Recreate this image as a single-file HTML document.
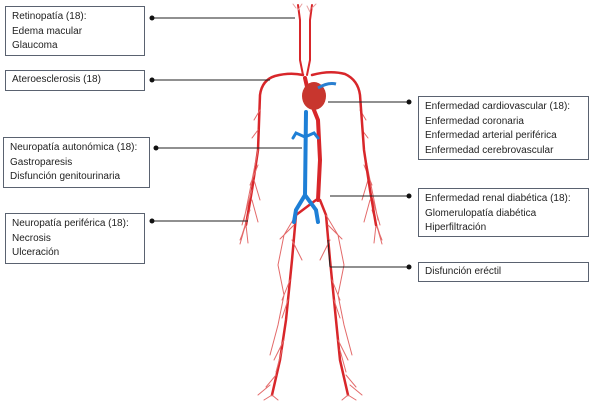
<!DOCTYPE html>
<html><head><meta charset="utf-8"><style>
body{margin:0;width:602px;height:404px;background:#fff;position:relative;overflow:hidden;font-family:"Liberation Sans",sans-serif;}
.b{position:absolute;border:1px solid #5a6270;box-sizing:border-box;font-size:10px;line-height:14.5px;color:#222;padding:3px 6px;background:#fff;}
svg{position:absolute;left:0;top:0}
</style></head><body>
<svg width="602" height="404">
<g fill="none" stroke="#d8262a" stroke-linecap="round">
<path d="M298 5 L300 20 L300 60 L303 75" stroke-width="2"/>
<path d="M312 5 L310 20 L310 60 L307 75" stroke-width="2"/>
<path d="M296 8 l-3 -4 M298 10 l4 -6 M312 8 l4 -4 M310 12 l-3 -6" stroke-width="1" stroke="#e8a0a0"/>
<path d="M305 78 L310 100 L318 120 L320 160 L318 200" stroke-width="4"/>
<path d="M303 75 Q290 72 275 76 Q262 80 260 95 L258 150 L252 190 L246 225" stroke-width="2.5"/>
<g stroke-width="1" stroke="#e36a6a">
<path d="M258 150 l-6 30 l-8 40 M252 190 l-10 35 M246 225 l-6 15 M246 225 l2 18 M250 210 l-8 25 M260 110 l-6 10 M258 130 l-6 8 M258 165 l-8 20 M254 180 l6 20 M244 230 l-4 14 M252 200 l6 22"/>
<path d="M364 150 l6 30 l8 40 M370 190 l10 35 M376 225 l6 15 M376 225 l-2 18 M372 210 l8 25 M360 110 l6 10 M362 130 l6 8 M364 165 l8 20 M368 180 l-6 20 M378 230 l4 14 M370 200 l-6 22"/>
</g>
<path d="M312 75 Q330 70 345 74 Q358 80 360 95 L364 150 L370 190 L376 225" stroke-width="2.5"/>
<path d="M316 200 L296 215 L292 260 L286 320 L280 360 L272 395" stroke-width="2.5"/>
<path d="M320 200 L326 215 L330 260 L336 320 L340 360 L348 395" stroke-width="2.5"/>
<g stroke-width="1" stroke="#e36a6a">
<path d="M296 215 l-12 20 l-6 30 l6 30 l-6 30 l-8 30 M292 240 l10 20 M290 280 l-8 20 M284 340 l-10 20 M272 395 l-8 5 M272 395 l6 5 M270 385 l-12 10 M294 225 l-14 14 M288 300 l-6 18 M282 350 l-6 22 M276 375 l-10 12"/>
<path d="M326 215 l12 20 l6 30 l-6 30 l6 30 l8 30 M330 240 l-10 20 M332 280 l8 20 M338 340 l10 20 M348 395 l8 5 M348 395 l-6 5 M350 385 l12 10 M328 225 l14 14 M334 300 l6 18 M340 350 l6 22 M346 375 l10 12"/>
</g>
</g>
<ellipse cx="314" cy="96" rx="12" ry="14" fill="#c8362e"/>
<path d="M318 88 q10 -6 18 -4" stroke="#2a7fd0" stroke-width="3" fill="none"/>
<g stroke="#1e7fd6" fill="none" stroke-linecap="round">
<path d="M306 112 L305 195 L296 210 L294 222" stroke-width="4"/>
<path d="M305 195 L316 210 L318 222" stroke-width="4"/>
<path d="M305 137 L296 133 L293 138 M305 137 L314 133 L318 138" stroke-width="3"/>
</g>
<g stroke="#222" stroke-width="1">
<line x1="152" y1="18" x2="295" y2="18"/><line x1="152" y1="80" x2="270" y2="80"/>
<line x1="156" y1="148" x2="302" y2="148"/><line x1="152" y1="221" x2="248" y2="221"/>
<line x1="328" y1="102" x2="409" y2="102"/><line x1="330" y1="196" x2="409" y2="196"/>
<line x1="330" y1="267" x2="409" y2="267"/><line x1="328" y1="240" x2="330" y2="267"/>
</g>
<g fill="#111"><circle cx="152" cy="18" r="2.5"/><circle cx="152" cy="80" r="2.5"/><circle cx="156" cy="148" r="2.5"/><circle cx="152" cy="221" r="2.5"/><circle cx="409" cy="102" r="2.5"/><circle cx="409" cy="196" r="2.5"/><circle cx="409" cy="267" r="2.5"/></g>
</svg>
<div class="b" style="left:5px;top:6px;width:140px;height:50px">Retinopatía (18):<br>Edema macular<br>Glaucoma</div>
<div class="b" style="left:5px;top:70px;width:140px;height:21px;padding-top:2px">Ateroesclerosis (18)</div>
<div class="b" style="left:3px;top:137px;width:147px;height:51px">Neuropatía autonómica (18):<br>Gastroparesis<br>Disfunción genitourinaria</div>
<div class="b" style="left:5px;top:213px;width:140px;height:51px">Neuropatía periférica (18):<br>Necrosis<br>Ulceración</div>
<div class="b" style="left:418px;top:96px;width:171px;height:64px">Enfermedad cardiovascular (18):<br>Enfermedad coronaria<br>Enfermedad arterial periférica<br>Enfermedad cerebrovascular</div>
<div class="b" style="left:418px;top:188px;width:171px;height:49px">Enfermedad renal diabética (18):<br>Glomerulopatía diabética<br>Hiperfiltración</div>
<div class="b" style="left:418px;top:262px;width:171px;height:20px;padding-top:2px">Disfunción eréctil</div>
</body></html>
